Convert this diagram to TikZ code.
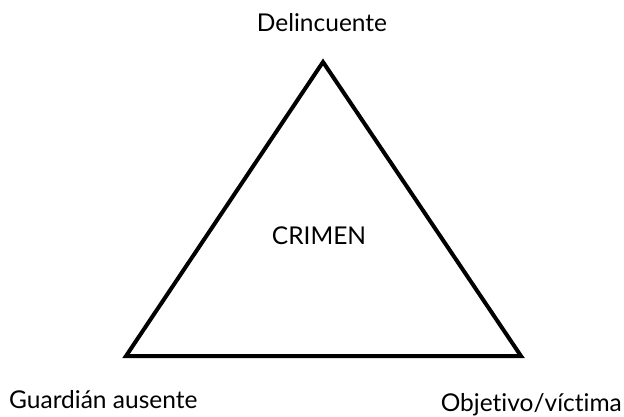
\documentclass[tikz,border=0pt]{standalone}
\usepackage{fontspec}
\setmainfont[Ligatures={NoCommon,NoRare,NoDiscretionary}]{Lato}
\begin{document}
\begin{tikzpicture}[x=1pt,y=-1pt,
  lbl/.style={inner sep=0pt,font=\fontsize{24.5}{28}\selectfont,text=black}]
\useasboundingbox (0,0) rectangle (624,417);
\coordinate (top) at (323,62);
\coordinate (bl) at (126,356);
\coordinate (br) at (521,356);
\draw[line width=4pt,line join=miter] (top) -- (br) -- (bl) -- cycle;
\node[lbl,anchor=base] (del) at (322,32) {Delincuente};
\node[lbl,anchor=base] (cri) at (319,244) {CRIMEN};
\node[lbl,anchor=base west] (gua) at (9,408) {Guardián ausente};
\node[lbl,anchor=base east] (obj) at (622,411) {Objetivo/víctima};
\end{tikzpicture}
\end{document}
